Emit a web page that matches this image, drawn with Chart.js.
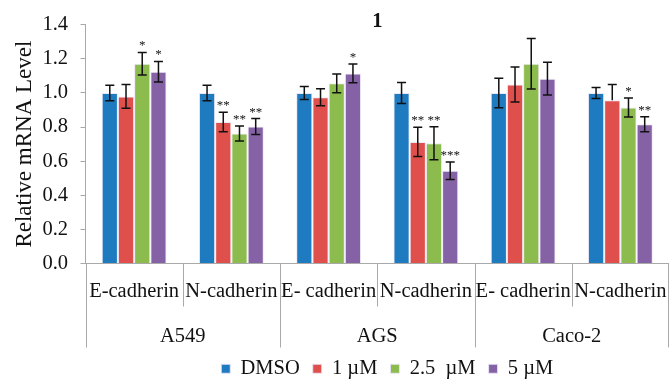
<!DOCTYPE html>
<html>
<head>
<meta charset="utf-8">
<script src="https://cdn.jsdelivr.net/npm/chart.js@4.4.1/dist/chart.umd.min.js"></script>
<style>
html,body{margin:0;padding:0;background:#ffffff;}
#wrap{width:669px;height:381px;position:relative;}
</style>
</head>
<body>
<div id="wrap"><canvas id="c"></canvas></div>
<script>
// ---- data ----
const categories = ['E-cadherin', 'N-cadherin', 'E- cadherin', 'N-cadherin', 'E- cadherin', 'N-cadherin'];
const groups = ['A549', 'AGS', 'Caco-2'];
const seriesNames = ['DMSO', '1 \u00b5M', '2.5  \u00b5M', '5 \u00b5M'];
const yTicks = [0.0, 0.2, 0.4, 0.6, 0.8, 1.0, 1.2, 1.4];

const dmso  = [1.00, 1.00, 1.00, 1.00, 1.00, 1.00];
const um1   = [0.98, 0.83, 0.975, 0.713, 1.05, 0.958];
const um25  = [1.172, 0.763, 1.057, 0.705, 1.172, 0.915];
const um5   = [1.125, 0.803, 1.115, 0.544, 1.084, 0.816];

const dmsoErr = [0.045, 0.046, 0.038, 0.061, 0.086, 0.032];
const um1Err  = [0.070, 0.057, 0.050, 0.086, 0.103, 0.092];
const um25Err = [0.066, 0.044, 0.055, 0.097, 0.148, 0.056];
const um5Err  = [0.060, 0.047, 0.055, 0.052, 0.096, 0.044];
// error bars shown only above the bar: [seriesIndex, categoryIndex]
const upperOnly = [[1, 5]];

const dmsoSig = ['', '', '', '', '', ''];
const um1Sig  = ['', '**', '', '**', '', ''];
const um25Sig = ['*', '**', '', '**', '', '*'];
const um5Sig  = ['*', '**', '*', '***', '', '**'];

const values = [dmso, um1, um25, um5];
const errors = [dmsoErr, um1Err, um25Err, um5Err];
const sigs = [dmsoSig, um1Sig, um25Sig, um5Sig];
const colors = ['#1f7bc0', '#df4f4c', '#8cbb4e', '#8562a6'];

const FONT = "'Liberation Serif','Times New Roman',serif";
const AXIS_GRAY = '#a9a9a9';
const LEGEND_SHIFT = 10;

const extras = {
  id: 'extras',
  afterLayout(chart) {
    if (chart.legend) {
      chart.legend.left += LEGEND_SHIFT;
      chart.legend.right += LEGEND_SHIFT;
    }
  },
  afterDatasetsDraw(chart) {
    const ctx = chart.ctx;
    const y = chart.scales.y;
    ctx.save();
    chart.data.datasets.forEach((ds, si) => {
      const meta = chart.getDatasetMeta(si);
      meta.data.forEach((bar, ci) => {
        const v = values[si][ci];
        const e = errors[si][ci];
        const only = upperOnly.some(p => p[0] === si && p[1] === ci);
        const yTop = y.getPixelForValue(v + e);
        const yBot = y.getPixelForValue(only ? v : v - e);
        const x = bar.x;
        ctx.strokeStyle = '#111';
        ctx.lineWidth = 1.5;
        ctx.beginPath();
        ctx.moveTo(x, yTop); ctx.lineTo(x, yBot);
        ctx.moveTo(x - 4.5, yTop); ctx.lineTo(x + 4.5, yTop);
        if (!only) { ctx.moveTo(x - 4.5, yBot); ctx.lineTo(x + 4.5, yBot); }
        ctx.stroke();
        const s = sigs[si][ci];
        if (s) {
          ctx.fillStyle = '#111';
          ctx.font = '13px ' + FONT;
          ctx.textAlign = 'center';
          ctx.textBaseline = 'alphabetic';
          ctx.fillText(s, x, yTop - 3);
        }
      });
    });
    ctx.restore();
  },
  afterDraw(chart) {
    const ctx = chart.ctx;
    const xs = chart.scales.x;
    const n = categories.length;
    const per = n / groups.length;
    const axisY = chart.chartArea.bottom;
    ctx.save();
    ctx.strokeStyle = AXIS_GRAY;
    ctx.lineWidth = 1;
    for (let i = 0; i <= n; i++) {
      let px = Math.round(xs.getPixelForValue(i - 0.5)) + 0.5;
      if (px > chart.width) px = chart.width - 0.5;
      const len = (i % per === 0) ? 84 : 43;
      ctx.beginPath();
      ctx.moveTo(px, axisY);
      ctx.lineTo(px, axisY + len);
      ctx.stroke();
    }
    ctx.fillStyle = '#111';
    ctx.font = '20.5px ' + FONT;
    ctx.textAlign = 'center';
    ctx.textBaseline = 'middle';
    groups.forEach((g, gi) => {
      const cx = (xs.getPixelForValue(gi * per - 0.5) + xs.getPixelForValue(gi * per + per - 0.5)) / 2;
      ctx.fillText(g, cx, axisY + 73);
    });
    ctx.restore();
  }
};

new Chart(document.getElementById('c'), {
  type: 'bar',
  data: {
    labels: categories,
    datasets: seriesNames.map((name, i) => ({
      label: name,
      data: values[i],
      backgroundColor: colors[i],
      borderColor: 'rgba(235,230,245,0.9)',
      borderWidth: 1,
      categoryPercentage: 0.667,
      barPercentage: 1.0
    }))
  },
  options: {
    responsive: true,
    maintainAspectRatio: false,
    animation: false,
    layout: { padding: { left: 0, right: 0, top: 0, bottom: -8 } },
    plugins: {
      title: {
        display: true,
        text: '1',
        fullSize: false,
        color: '#111',
        font: { family: FONT, size: 20.5, weight: 'bold' },
        padding: { top: 5, bottom: -9 }
      },
      legend: {
        display: true,
        position: 'bottom',
        fullSize: false,
        labels: {
          boxWidth: 9,
          boxHeight: 9,
          padding: 13,
          color: '#111',
          font: { family: FONT, size: 20.5 }
        }
      },
      tooltip: { enabled: false }
    },
    scales: {
      x: {
        type: 'category',
        offset: true,
        grid: { display: false, drawTicks: false },
        border: { display: true, color: AXIS_GRAY, width: 1 },
        ticks: { color: '#111', font: { family: FONT, size: 20.5 }, padding: 16, maxRotation: 0, autoSkip: false },
        afterFit(scale) { scale.height = 82; scale.paddingLeft = 0; scale.paddingRight = 0; }
      },
      y: {
        min: 0,
        max: 1.4,
        afterBuildTicks(scale) { scale.ticks = yTicks.map(v => ({ value: v })); },
        grid: { display: true, drawOnChartArea: false, drawTicks: true, tickLength: 5, color: AXIS_GRAY },
        border: { display: true, color: AXIS_GRAY, width: 1 },
        ticks: { color: '#111', font: { family: FONT, size: 20.5 }, padding: 12.5, callback: v => Number(v).toFixed(1) },
        title: { display: true, text: 'Relative mRNA Level', color: '#111', font: { family: FONT, size: 23 }, padding: { top: 11, bottom: 0 } },
        afterFit(scale) { scale.width = 85.5; }
      }
    }
  },
  plugins: [extras]
});
</script>
</body>
</html>
